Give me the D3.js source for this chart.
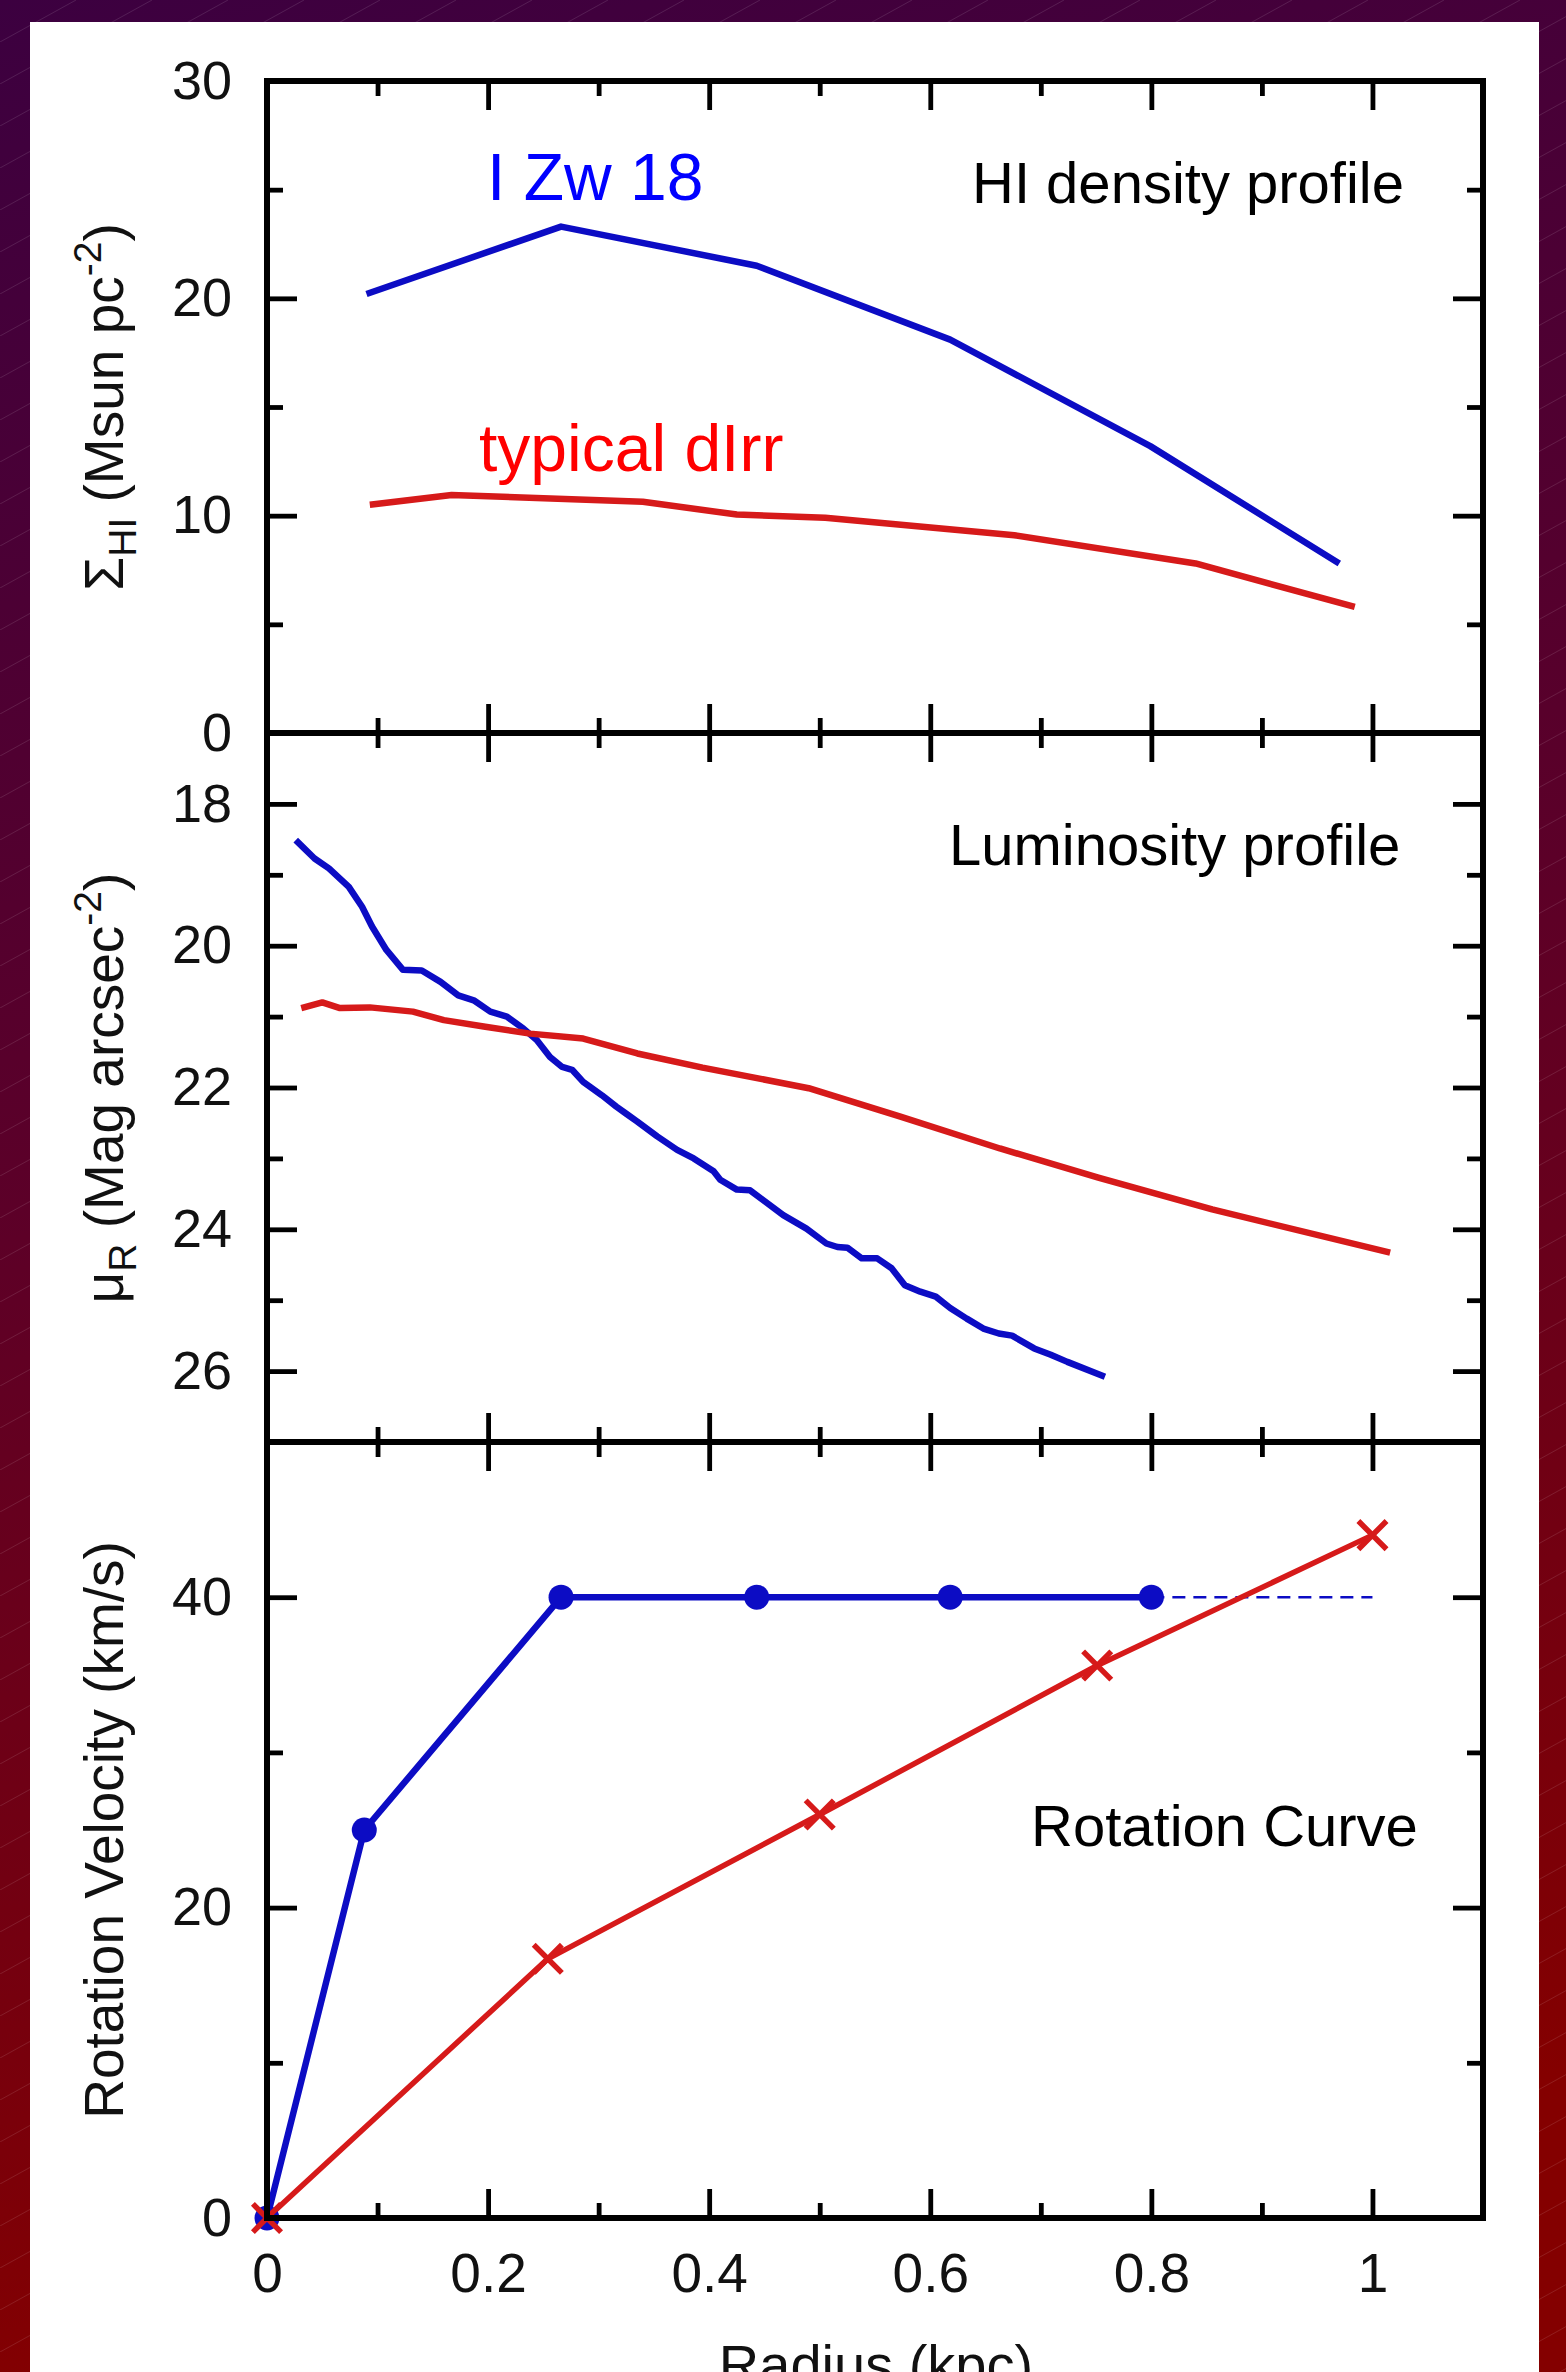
<!DOCTYPE html>
<html>
<head>
<meta charset="utf-8">
<script src="https://cdn.jsdelivr.net/npm/d3@7"></script>
<style>
  html, body { margin: 0; padding: 0; overflow: hidden; }
  svg { display: block; }
  text { font-family: "Liberation Sans", Arial, Helvetica, sans-serif; }
</style>
</head>
<body>
<svg id="chart"></svg>
<script>
// Tick values
const radiusMajor = [0, 0.2, 0.4, 0.6, 0.8, 1];
const radiusMinor = [0.1, 0.3, 0.5, 0.7, 0.9];
const hiMajor = [0, 10, 20, 30];
const hiMinor = [5, 15, 25];
const muMajor = [18, 20, 22, 24, 26];
const muMinor = [19, 21, 23, 25];
const velMajor = [0, 20, 40];
const velMinor = [10, 30];

// HI density profile [radius kpc, Msun pc^-2]
const hiIZw18 = [[0.09, 20.2], [0.266, 23.3], [0.443, 21.5], [0.618, 18.1], [0.799, 13.2], [0.97, 7.8]];
const hiDirr = [[0.093, 10.5], [0.167, 10.95], [0.34, 10.64], [0.425, 10.05], [0.505, 9.9],
  [0.676, 9.1], [0.84, 7.8], [0.984, 5.8]];

// Luminosity profile [radius kpc, mag arcsec^-2]
const muIZw18 = [[0.026, 18.51], [0.043, 18.77], [0.056, 18.91], [0.074, 19.17], [0.086, 19.45],
  [0.095, 19.73], [0.108, 20.06], [0.123, 20.34], [0.14, 20.35], [0.157, 20.51], [0.173, 20.7],
  [0.187, 20.77], [0.202, 20.93], [0.217, 21.0], [0.232, 21.17], [0.244, 21.33], [0.256, 21.57],
  [0.267, 21.71], [0.276, 21.75], [0.286, 21.92], [0.303, 22.11], [0.316, 22.27], [0.325, 22.37],
  [0.335, 22.48], [0.353, 22.69], [0.371, 22.88], [0.386, 23.0], [0.404, 23.18], [0.41, 23.3],
  [0.425, 23.44], [0.437, 23.45], [0.467, 23.8], [0.488, 23.99], [0.506, 24.2], [0.516, 24.25],
  [0.525, 24.26], [0.538, 24.41], [0.552, 24.41], [0.565, 24.55], [0.577, 24.79], [0.591, 24.88],
  [0.605, 24.95], [0.618, 25.11], [0.633, 25.26], [0.648, 25.4], [0.662, 25.47], [0.674, 25.5],
  [0.694, 25.68], [0.709, 25.77], [0.724, 25.87], [0.758, 26.08]];
const muDirr = [[0.031, 20.88], [0.05, 20.8], [0.066, 20.88], [0.093, 20.87], [0.132, 20.93],
  [0.16, 21.05], [0.196, 21.14], [0.238, 21.24], [0.286, 21.31], [0.335, 21.52], [0.394, 21.72],
  [0.49, 22.01], [0.573, 22.41], [0.663, 22.86], [0.752, 23.27], [0.855, 23.72], [1.016, 24.33]];

// Rotation curve [radius kpc, km/s]
const velIZw18 = [[0, 0], [0.088, 25], [0.266, 40], [0.443, 40], [0.618, 40], [0.8, 40]];
const velIZw18Ext = [[0.8, 40], [1.0, 40]];
const velDirr = [[0, 0], [0.254, 16.7], [0.5, 26], [0.751, 35.6], [1.0, 44]];

const W = 1566, H = 2372;
const blue = '#0c0cc4', red = '#d61a1a';

const svg = d3.select('#chart').attr('width', W).attr('height', H);

// Background: purple to dark red with faint diagonal lines
const defs = svg.append('defs');
const grad = defs.append('linearGradient').attr('id', 'bg')
  .attr('x1', 0).attr('y1', 0).attr('x2', 0.15).attr('y2', 1);
grad.append('stop').attr('offset', '0%').attr('stop-color', '#3c0040');
grad.append('stop').attr('offset', '50%').attr('stop-color', '#5c0028');
grad.append('stop').attr('offset', '100%').attr('stop-color', '#840000');
const pat = defs.append('pattern').attr('id', 'hatch')
  .attr('patternUnits', 'userSpaceOnUse').attr('width', 76).attr('height', 42);
pat.append('line').attr('x1', 0).attr('y1', 42).attr('x2', 76).attr('y2', 0)
  .attr('stroke', '#fff').attr('stroke-opacity', 0.11).attr('stroke-width', 1);

svg.append('rect').attr('width', W).attr('height', H).attr('fill', 'url(#bg)');
svg.append('rect').attr('width', W).attr('height', H).attr('fill', 'url(#hatch)');
svg.append('rect').attr('x', 30).attr('y', 22).attr('width', 1509).attr('height', H).attr('fill', '#fff');

// Scales
const x = d3.scaleLinear().domain([0, 1.1]).range([267, 1483]);
const yHI = d3.scaleLinear().domain([0, 30]).range([733, 81]);
const yMu = d3.scaleLinear().domain([17, 27]).range([733, 1442]);
const yVel = d3.scaleLinear().domain([0, 50]).range([2218, 1442]);

const majorLen = 29, minorLen = 15;

function panel(y, yMajor, yMinor, showX) {
  const [top, bottom] = d3.extent(y.range());
  const g = svg.append('g');
  const addAxis = (axis, tx, ty, vals, len, labels, size) => {
    const a = g.append('g').attr('transform', `translate(${tx},${ty})`)
      .call(axis.tickValues(vals).tickSizeInner(-len).tickSizeOuter(0).tickPadding(35)
        .tickFormat(labels ? (d => String(d)) : () => ''));
    a.select('.domain').remove();
    a.selectAll('line').attr('stroke', '#000').attr('stroke-width', 4.8);
    a.selectAll('text').attr('fill', '#111').attr('font-size', size || 53);
    return a;
  };
  // x ticks bottom and top
  addAxis(d3.axisBottom(x), 0, bottom, radiusMajor, majorLen, showX, 55);
  addAxis(d3.axisBottom(x), 0, bottom, radiusMinor, minorLen, false);
  addAxis(d3.axisTop(x), 0, top, radiusMajor, majorLen, false);
  addAxis(d3.axisTop(x), 0, top, radiusMinor, minorLen, false);
  // y ticks left and right
  addAxis(d3.axisLeft(y), 267, 0, yMajor, majorLen + 1, true, 54);
  addAxis(d3.axisLeft(y), 267, 0, yMinor, minorLen + 1, false);
  addAxis(d3.axisRight(y), 1483, 0, yMajor, majorLen + 1, false);
  addAxis(d3.axisRight(y), 1483, 0, yMinor, minorLen + 1, false);
  return g;
}

function drawLine(y, data, color, width, dash) {
  svg.append('path').datum(data)
    .attr('fill', 'none').attr('stroke', color).attr('stroke-width', width)
    .attr('stroke-linejoin', 'round').attr('stroke-dasharray', dash || null)
    .attr('d', d3.line().x(d => x(d[0])).y(d => y(d[1])));
}

// Panels
panel(yHI, hiMajor, hiMinor, false);
panel(yMu, muMajor, muMinor, false);
panel(yVel, velMajor, velMinor, true);

// Curves
drawLine(yHI, hiIZw18, blue, 6.5);
drawLine(yHI, hiDirr, red, 6.5);
drawLine(yMu, muIZw18, blue, 6.5);
drawLine(yMu, muDirr, red, 6.5);
drawLine(yVel, velIZw18Ext, blue, 2.4, '13,8');
drawLine(yVel, velIZw18, blue, 6.5);
drawLine(yVel, velDirr, red, 5.5);

svg.append('g').selectAll('circle').data(velIZw18).join('circle')
  .attr('cx', d => x(d[0])).attr('cy', d => yVel(d[1])).attr('r', 12.5).attr('fill', blue);

const cross = d3.symbol().type(d3.symbolX).size(520);
svg.append('g').selectAll('path').data(velDirr).join('path')
  .attr('transform', d => `translate(${x(d[0])},${yVel(d[1])})`)
  .attr('d', cross).attr('fill', 'none').attr('stroke', red).attr('stroke-width', 5.5);

// Frames
[yHI, yMu, yVel].forEach(y => {
  const [a, b] = d3.extent(y.range());
  svg.append('rect').attr('x', 267).attr('y', a).attr('width', 1483 - 267).attr('height', b - a)
    .attr('fill', 'none').attr('stroke', '#000').attr('stroke-width', 6);
});

// Axis titles
function yTitle(cy, build) {
  const t = svg.append('text').attr('transform', `translate(123,${cy}) rotate(-90)`)
    .attr('text-anchor', 'middle').attr('font-size', 55).attr('fill', '#111');
  build(t);
}
yTitle(407, t => {
  t.append('tspan').text('\u03A3');
  t.append('tspan').attr('font-size', 39).attr('dy', 13).text('HI');
  t.append('tspan').attr('dy', -13).text(' (Msun pc');
  t.append('tspan').attr('font-size', 39).attr('dy', -22).text('-2');
  t.append('tspan').attr('dy', 22).text(')');
});
yTitle(1088, t => {
  t.append('tspan').text('\u03BC');
  t.append('tspan').attr('font-size', 39).attr('dy', 13).text('R');
  t.append('tspan').attr('dy', -13).text(' (Mag arcsec');
  t.append('tspan').attr('font-size', 39).attr('dy', -22).text('-2');
  t.append('tspan').attr('dy', 22).text(')');
});
yTitle(1830, t => t.text('Rotation Velocity (km/s)'));

svg.append('text').attr('x', 876).attr('y', 2384).attr('text-anchor', 'middle')
  .attr('font-size', 56).attr('fill', '#111').text('Radius (kpc)');

// Annotations
const notes = [
  { text: 'I Zw 18', x: 487, y: 200, size: 66, color: '#0000ff' },
  { text: 'typical dIrr', x: 479, y: 471, size: 66, color: '#ff0000' },
  { text: 'HI density profile', x: 972, y: 203, size: 58, color: '#000' },
  { text: 'Luminosity profile', x: 949, y: 865, size: 58, color: '#000' },
  { text: 'Rotation Curve', x: 1031, y: 1846, size: 58, color: '#000' }
];
svg.append('g').selectAll('text').data(notes).join('text')
  .attr('x', d => d.x).attr('y', d => d.y).attr('font-size', d => d.size)
  .attr('fill', d => d.color).text(d => d.text);
</script>
</body>
</html>
